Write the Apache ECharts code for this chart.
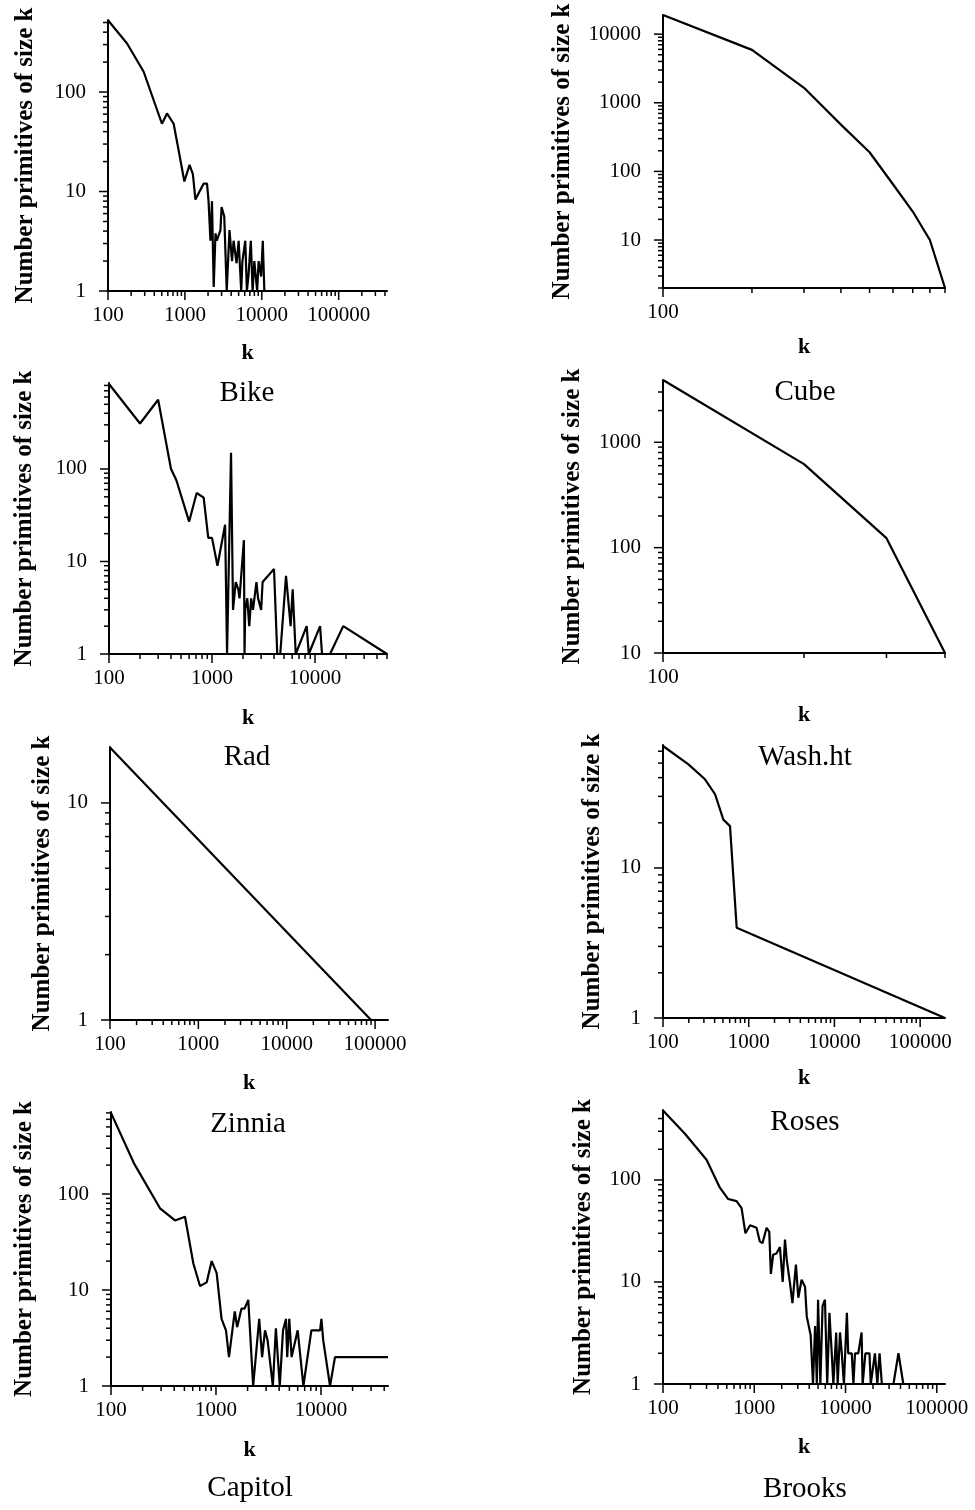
<!DOCTYPE html>
<html>
<head>
<meta charset="utf-8">
<script src="https://cdn.jsdelivr.net/npm/echarts@6/dist/echarts.min.js"></script>
<style>
html,body{margin:0;padding:0;background:#fff;}
#c{width:975px;height:1510px;}
</style>
</head>
<body>
<div id="c"></div>
<script>
// ---------------- data ----------------
const captions = ['Bike', 'Cube', 'Rad', 'Wash.ht', 'Zinnia', 'Roses', 'Capitol', 'Brooks'];
const xAxisName = 'k';
const yAxisName = 'Number primitives of size k';

const bike = [[100,527],[177,308],[291,160],[503,48],[585,61],[714,48],[872,21],[984,12.6],[1150,18.5],[1270,15],[1370,8.3],[1550,10],[1750,12],[1940,12],[2030,8],[2150,3.2],[2250,8],[2370,1.1],[2500,3.8],[2600,3.2],[2900,4.1],[3000,7],[3250,5.6],[3500,1],[3800,4.1],[4100,2],[4300,3.2],[4700,1.9],[5000,3.2],[5400,1],[5600,2],[6100,3.2],[6400,1],[6700,1.4],[7200,3.2],[7600,1],[8000,2],[8700,1],[9100,2],[9800,1.4],[10300,3.2],[10800,1]];
const cube = [[100,19000],[200,5900],[300,1650],[400,480],[500,190],[600,65],[700,26],[800,10],[900,2]];
const rad = [[100,830],[200,310],[300,560],[400,100],[450,76],[600,27],[710,55],[830,49],[920,18],[1000,18],[1130,9],[1340,25],[1400,1],[1530,150],[1600,3],[1700,6],[1800,5],[1850,4],[2040,17],[2070,1],[2100,3],[2200,4],[2300,2],[2400,4],[2500,3],[2700,6],[2800,4],[3000,3],[3100,6],[4000,8.3],[4300,1],[4600,1],[5230,7],[5800,2],[6070,5],[6500,1],[8300,2],[8700,1],[11200,2],[11700,1],[14000,1],[18800,2],[50000,1]];
const washHt = [[100,3900],[200,620],[300,123],[400,10]];
const zinnia = [[100,18],[90000,1]];
const roses = [[100,65],[198,49],[309,39],[405,31],[506,21],[605,19],[724,4],[195000,1]];
const capitol = [[100,700],[165,210],[293,71],[407,53],[507,58],[608,19],[704,11],[815,12],[910,20],[1015,15],[1130,5],[1245,3.8],[1330,2],[1510,6],[1590,4.1],[1750,6.4],[1870,6.4],[2030,7.9],[2260,1],[2580,5],[2750,2],[2930,3.8],[3100,3],[3480,1],[3720,4],[4050,1],[4350,3.8],[4640,5],[4770,2],[4990,5],[5250,2],[6000,3.8],[6800,1],[8100,3.8],[9800,3.8],[10100,5],[10500,3],[12200,1],[13600,2],[43500,2]];
const brooks = [[100,480],[173,285],[300,158],[420,84],[518,65],[640,62],[726,53],[800,30],[900,36],[1060,34],[1150,25],[1230,24],[1365,34],[1460,31],[1520,12],[1610,18.5],[1750,19],[1910,22],[2050,10],[2170,26],[2270,16.5],[2460,9.8],[2620,6.2],[2860,14.8],[3040,7],[3300,10.5],[3600,9],[3760,4.6],[4150,3],[4400,1],[4640,3.7],[4850,1],[5000,6.7],[5300,1],[5600,5.8],[5950,6.7],[6300,1],[6660,5],[7060,2],[7360,1],[7900,3.2],[8200,1],[8700,3.2],[9100,2],[9600,1],[10350,5],[10700,2],[11700,2],[12200,1],[12700,2],[13800,2],[15000,3.2],[15400,1],[16500,2],[18300,2],[18900,1],[21000,2],[22300,1],[23600,2],[25000,1],[33500,1],[38000,2],[43000,1],[123000,1]];

const panels = [bike, cube, rad, washHt, zinnia, roses, capitol, brooks];
const xRanges = [[100,425000],[100,900],[100,50000],[100,400],[100,140000],[100,195000],[100,43500],[100,123000]];
const yRanges = [[1,530],[2,19000],[1,850],[10,3900],[1,18.1],[1,66],[1,715],[1,485]];

// ---------------- layout ----------------
const grids = [
  {left:108, top:20,   width:279, height:271},
  {left:663, top:15,   width:282, height:273},
  {left:109, top:383,  width:278, height:271},
  {left:663, top:380,  width:282, height:273},
  {left:110, top:747,  width:278, height:273},
  {left:663, top:745,  width:282, height:273},
  {left:111, top:1112, width:277, height:274},
  {left:663, top:1110, width:282, height:274}
];
const yNameGaps = [70, 88, 72, 78, 55, 58, 74, 67];
const xNameGaps = [51, 48, 53, 51, 52, 49, 53, 52];
const captionPos = [[247,393],[805,392],[247,757],[805,757],[248,1124],[805,1122],[250,1488],[805,1489]];

const SERIF = "'Liberation Serif','Times New Roman',serif";

function pow10Label(v) {
  const l = Math.log10(v);
  return Math.abs(l - Math.round(l)) < 1e-6 ? String(Math.round(v)) : '';
}

function tickValues(range) {
  const out = [];
  const e0 = Math.floor(Math.log10(range[0]));
  const e1 = Math.ceil(Math.log10(range[1]));
  for (let e = e0; e <= e1; e++) {
    for (let m = 1; m <= 9; m++) {
      const v = m * Math.pow(10, e);
      if (v >= range[0] * 0.9999 && v <= range[1] * 1.0001) out.push([v, m === 1 ? 1 : 0]);
    }
  }
  return out;
}

function tickData(i) {
  const xr = xRanges[i], yr = yRanges[i];
  const d = [];
  tickValues(xr).forEach(t => d.push([t[0], yr[0], 0, t[1]]));
  tickValues(yr).forEach(t => d.push([xr[0], t[0], 1, t[1]]));
  return d;
}

function renderTick(params, api) {
  const p = api.coord([api.value(0), api.value(1)]);
  const len = api.value(3) === 1 ? 9 : 5;
  const isX = api.value(2) === 0;
  return {
    type: 'line',
    shape: isX ? {x1:p[0], y1:p[1], x2:p[0], y2:p[1] + len}
               : {x1:p[0] - len, y1:p[1], x2:p[0], y2:p[1]},
    style: {stroke:'#000', lineWidth:1.5}
  };
}

const xAxes = [], yAxes = [], series = [], gridOpts = [], graphics = [];
panels.forEach((data, i) => {
  gridOpts.push(Object.assign({containLabel:false, outerBoundsMode:'none'}, grids[i]));
  xAxes.push({
    type:'log', logBase:10, gridIndex:i, min:xRanges[i][0], max:xRanges[i][1],
    name:xAxisName, nameLocation:'middle', nameGap:xNameGaps[i],
    nameTextStyle:{fontFamily:SERIF, fontWeight:'bold', fontSize:22, color:'#000'},
    axisLine:{show:true, onZero:false, lineStyle:{color:'#000', width:2}},
    axisTick:{show:false}, splitLine:{show:false}, minorTick:{show:false},
    axisLabel:{formatter:pow10Label, fontFamily:SERIF, fontSize:21, color:'#000', margin:14, hideOverlap:false}
  });
  yAxes.push({
    type:'log', logBase:10, gridIndex:i, min:yRanges[i][0], max:yRanges[i][1],
    name:yAxisName, nameLocation:'middle', nameGap:yNameGaps[i], nameRotate:90,
    nameTextStyle:{fontFamily:SERIF, fontWeight:'bold', fontSize:25, color:'#000'},
    axisLine:{show:true, onZero:false, lineStyle:{color:'#000', width:2}},
    axisTick:{show:false}, splitLine:{show:false}, minorTick:{show:false},
    axisLabel:{formatter:pow10Label, fontFamily:SERIF, fontSize:21, color:'#000', margin:22, hideOverlap:false}
  });
  series.push({
    type:'line', xAxisIndex:i, yAxisIndex:i, data:data,
    showSymbol:false, symbol:'none', smooth:false,
    lineStyle:{color:'#000', width:2.2}, animation:false, silent:true
  });
  series.push({
    type:'custom', xAxisIndex:i, yAxisIndex:i, data:tickData(i),
    renderItem:renderTick, animation:false, silent:true, clip:false
  });
  graphics.push({
    type:'text', x:captionPos[i][0], y:captionPos[i][1], silent:true,
    style:{text:captions[i], fill:'#000', font:"29px " + SERIF,
      align:'center', verticalAlign:'middle', textAlign:'center', textVerticalAlign:'middle'}
  });
});

const chart = echarts.init(document.getElementById('c'), null, {renderer:'canvas'});
chart.setOption({
  backgroundColor:'#fff',
  animation:false,
  grid:gridOpts,
  xAxis:xAxes,
  yAxis:yAxes,
  series:series,
  graphic:graphics
});
</script>
</body>
</html>
